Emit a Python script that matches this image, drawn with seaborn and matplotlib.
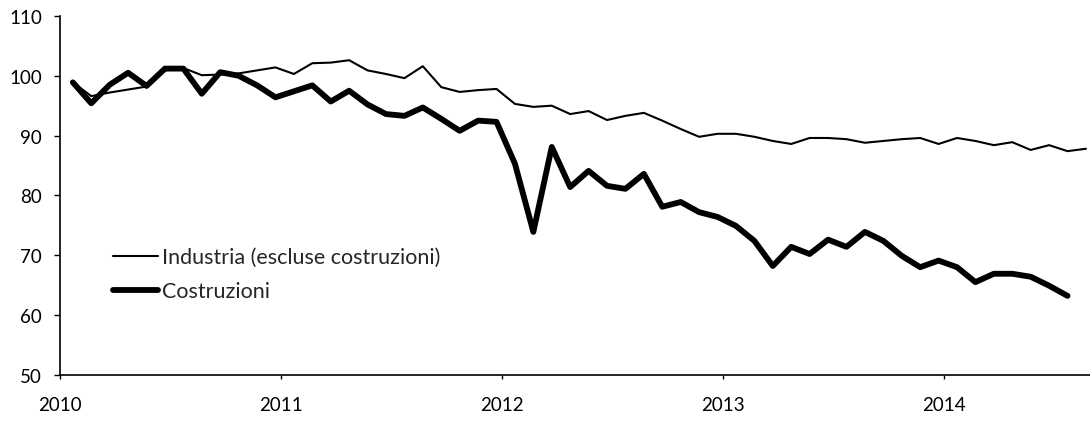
import numpy as np
import pandas as pd
import matplotlib
matplotlib.use("Agg")
import matplotlib.pyplot as plt
import seaborn as sns

# ------------------------------
# Data (monthly index, 2010 = 100), Jan 2010 onwards
# ------------------------------
industria = [98.9, 96.6, 97.2, 97.7, 98.2, 100.9, 101.3, 100.1, 100.2, 100.4,
             100.9, 101.4, 100.3, 102.1, 102.2, 102.6, 100.9, 100.3, 99.6, 101.6,
             98.1, 97.3, 97.6, 97.8, 95.3, 94.8, 95.0, 93.6, 94.1, 92.6,
             93.3, 93.8, 92.5, 91.1, 89.8, 90.3, 90.3, 89.8, 89.1, 88.6,
             89.6, 89.6, 89.4, 88.8, 89.1, 89.4, 89.6, 88.6, 89.6, 89.1,
             88.4, 88.9, 87.6, 88.4, 87.4, 87.8]
costruzioni = [98.9, 95.4, 98.5, 100.5, 98.3, 101.2, 101.2, 97.0, 100.6, 100.0,
               98.4, 96.4, 97.4, 98.4, 95.7, 97.5, 95.2, 93.6, 93.3, 94.7,
               92.8, 90.8, 92.5, 92.3, 85.3, 73.9, 88.1, 81.4, 84.1, 81.6,
               81.1, 83.6, 78.1, 78.9, 77.2, 76.4, 74.9, 72.4, 68.2, 71.4,
               70.2, 72.6, 71.4, 73.9, 72.4, 69.9, 68.0, 69.1, 68.0, 65.5,
               66.9, 66.9, 66.4, 64.9, 63.2]
years = [2010, 2011, 2012, 2013, 2014]
labels = ["Industria (escluse costruzioni)", "Costruzioni"]

# monthly positions as decimal years
x_ind = 2010 + (np.arange(len(industria)) + 0.7) / 12
x_cos = 2010 + (np.arange(len(costruzioni)) + 0.7) / 12

df = pd.concat([
    pd.DataFrame({"x": x_ind, "value": industria, "serie": labels[0]}),
    pd.DataFrame({"x": x_cos, "value": costruzioni, "serie": labels[1]}),
])

# ------------------------------
# Plot
# ------------------------------
sns.set_style("ticks")
plt.rcParams["font.family"] = ["Lato", "DejaVu Sans"]

fig = plt.figure(figsize=(10.9, 4.35), dpi=100)
ax = fig.add_axes([0.055, 0.136, 0.945, 0.825])

sns.lineplot(data=df[df["serie"] == labels[0]], x="x", y="value", color="black",
             linewidth=1.5, ax=ax, label=labels[0])
sns.lineplot(data=df[df["serie"] == labels[1]], x="x", y="value", color="black",
             linewidth=4.2, ax=ax, label=labels[1])

ax.set_xlim(2010, 2014.66)
ax.set_ylim(50, 110)
ax.set_yticks(range(50, 111, 10))
ax.set_xticks(years)
ax.set_xticklabels([str(y) for y in years])
ax.set_xlabel("")
ax.set_ylabel("")
ax.tick_params(axis="y", labelsize=13.5, length=4, width=1, pad=9, colors="black")
ax.tick_params(axis="x", labelsize=13.5, length=3, width=1, pad=12, colors="black")
sns.despine(ax=ax, right=True, top=True)
for s in ["left", "bottom"]:
    ax.spines[s].set_color("black")
    ax.spines[s].set_linewidth(1.2)

ax.legend(loc="upper left", bbox_to_anchor=(0.041, 0.386), frameon=False,
          fontsize=15.5, handlelength=2.1, handletextpad=0.2, labelspacing=0.65,
          borderpad=0)

fig.savefig("out.png", dpi=100)
